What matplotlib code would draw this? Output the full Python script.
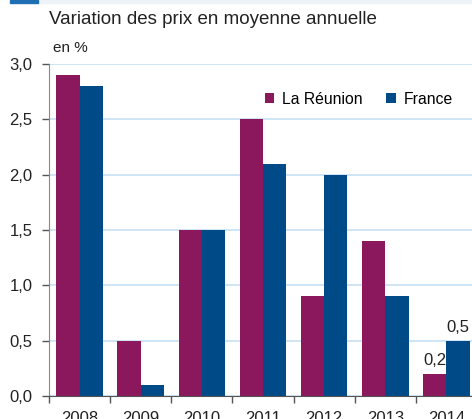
import numpy as np
import matplotlib.pyplot as plt
from matplotlib.patches import Rectangle
from matplotlib.ticker import FixedLocator, FuncFormatter

plt.rcParams['font.family'] = ['Liberation Sans', 'DejaVu Sans']

# donnees
annees = ['2008', '2009', '2010', '2011', '2012', '2013', '2014']
reunion = [2.9, 0.5, 1.5, 2.5, 0.9, 1.4, 0.2]
france = [2.8, 0.1, 1.5, 2.1, 2.0, 0.9, 0.5]

col_reu = '#8b185c'
col_fra = '#004b87'

fig = plt.figure(figsize=(4.72, 4.19), dpi=100)
ax = fig.add_axes([49/472, 23/419, 428/472, 332/419])

x = np.arange(len(annees))
w = 0.38
ax.bar(x - w/2, reunion, w, color=col_reu, label='La Réunion', zorder=3)
ax.bar(x + w/2, france, w, color=col_fra, label='France', zorder=3)

ax.set_xlim(-0.5, len(annees) - 0.5)
ax.set_ylim(0, 3.0)
ax.set_yticks(np.arange(0, 3.01, 0.5))
ax.yaxis.set_major_formatter(FuncFormatter(lambda v, p: f'{v:.1f}'.replace('.', ',')))
ax.grid(axis='y', color='#c6dff2', linewidth=1.2, zorder=0)

ax.set_xticks(x)
ax.set_xticklabels(annees)
ax.xaxis.set_minor_locator(FixedLocator(np.arange(-0.5, len(annees), 1.0)))
ax.tick_params(axis='x', which='major', length=0, pad=11, labelsize=12, colors='#222222')
ax.tick_params(axis='x', which='minor', length=5, width=1, color='#555555', direction='out')
ax.tick_params(axis='y', length=5, width=1, color='#555555', pad=7, labelsize=12, labelcolor='#222222')

for s in ['top', 'right']:
    ax.spines[s].set_visible(False)
ax.spines['left'].set_color('#888888')
ax.spines['bottom'].set_color('#555555')
ax.spines['left'].set_zorder(4)
ax.spines['bottom'].set_zorder(4)

# etiquettes 2014
ax.text(x[-1] - w/2, reunion[-1] + 0.05, '0,2', ha='center', va='bottom', fontsize=12, color='#222222')
ax.text(x[-1] + w/2, france[-1] + 0.05, '0,5', ha='center', va='bottom', fontsize=12, color='#222222')

leg = ax.legend(loc='upper left', bbox_to_anchor=(0.49, 0.935), ncol=2, frameon=False,
                fontsize=11.3, handlelength=0.6, handleheight=0.6, handletextpad=0.5,
                columnspacing=1.5, borderaxespad=0)

fig.text(49/472, 1 - 20/419, 'Variation des prix en moyenne annuelle', fontsize=13.5,
         color='#222222', va='center', ha='left')
fig.text(53/472, 1 - 48/419, 'en %', fontsize=11, color='#222222', va='center', ha='left')

# bandeau en haut
fig.patches.append(Rectangle((38/472, 1 - 3/419), 1, 3/419, transform=fig.transFigure,
                             color='#eef3f8', zorder=0))
fig.patches.append(Rectangle((10/472, 1 - 3/419), 28/472, 3/419, transform=fig.transFigure,
                             color='#1f6fb4', zorder=1))

fig.savefig('out.png', dpi=100)
